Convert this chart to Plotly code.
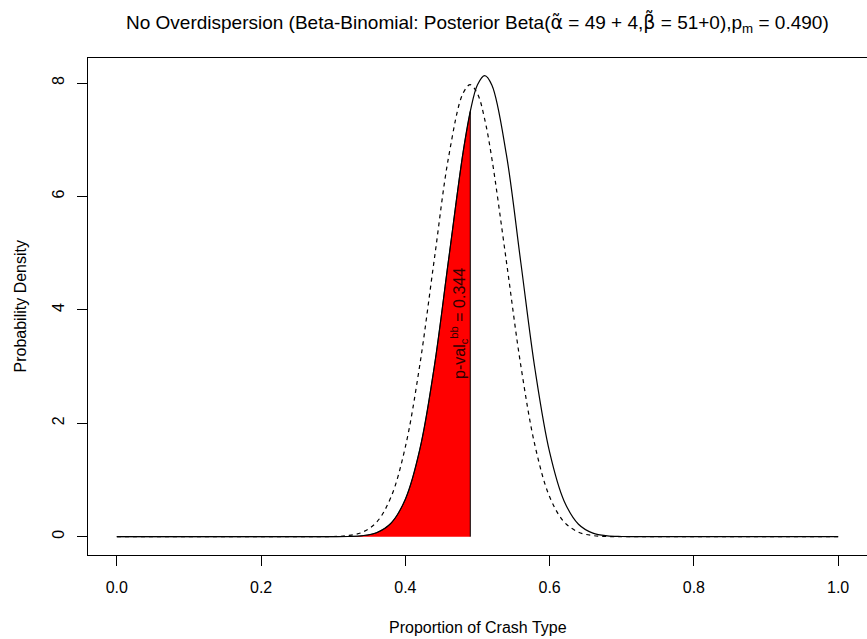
import plotly.graph_objects as go

# Proportion grid and the two density curves
x_vals = [0.0, 0.26, 0.28, 0.30, 0.32, 0.34, 0.36, 0.38, 0.40, 0.42, 0.44, 0.46,
          0.48, 0.49, 0.50, 0.51, 0.52, 0.54, 0.56, 0.58, 0.60, 0.62, 0.64, 0.66,
          0.68, 0.70, 0.72, 0.74, 1.0]

# Posterior Beta(49+4, 51+0) density (solid)
posterior_density = [0.0, 0.0, 0.0, 0.0005, 0.003, 0.017, 0.070, 0.237, 0.662, 1.538,
                     2.991, 4.893, 6.777, 7.50, 7.97, 8.13, 7.96, 6.74, 4.84, 2.93,
                     1.49, 0.631, 0.220, 0.063, 0.014, 0.003, 0.0, 0.0, 0.0]

# Beta(49, 51) density (dashed)
reference_density = [0.0, 0.0, 0.0005, 0.0035, 0.0185, 0.076, 0.254, 0.696, 1.585, 3.028,
                     4.88, 6.70, 7.82, 7.97, 7.81, 7.36, 6.66, 4.86, 3.02, 1.59,
                     0.704, 0.261, 0.080, 0.020, 0.004, 0.0007, 0.0, 0.0, 0.0]

p_m = 0.490
p_value = 0.344

x_ticks = [0.0, 0.2, 0.4, 0.6, 0.8, 1.0]
x_tick_text = ["0.0", "0.2", "0.4", "0.6", "0.8", "1.0"]
y_ticks = [0, 2, 4, 6, 8]

FONT = "Liberation Sans, Arial, sans-serif"
GREEK = '<span style="font-family:DejaVu Sans">{}</span>'

# Lower tail of the posterior up to p_m
tail_x = [x for x in x_vals if x <= p_m]
tail_y = posterior_density[:len(tail_x)]
p_m_height = posterior_density[x_vals.index(p_m)]

fig = go.Figure()

fig.add_trace(go.Scatter(
    x=tail_x, y=tail_y, mode="lines", line=dict(color="black", width=0.8, shape="spline"),
    fill="tozeroy", fillcolor="#ff0000", hoverinfo="skip", showlegend=False))

fig.add_trace(go.Scatter(
    x=[p_m, p_m], y=[0, p_m_height], mode="lines",
    line=dict(color="black", width=1), hoverinfo="skip", showlegend=False))

fig.add_trace(go.Scatter(
    x=x_vals, y=posterior_density, mode="lines",
    line=dict(color="black", width=1.2, shape="spline"), showlegend=False))

fig.add_trace(go.Scatter(
    x=x_vals, y=reference_density, mode="lines",
    line=dict(color="black", width=1.2, shape="spline", dash="4px,4px"), showlegend=False))

fig.add_annotation(
    x=0.475, y=3.76, xref="x", yref="y", textangle=-90, showarrow=False,
    text=f"p-val<sub>c</sub><sup>bb</sup> = {p_value:.3f}",
    font=dict(family=FONT, size=16, color="#300000"))

title_text = ("No Overdispersion (Beta-Binomial: Posterior Beta("
              + GREEK.format("α\u0303") + " = 49 + 4,"
              + GREEK.format("β\u0303") + " = 51+0),p<sub>m</sub> = 0.490)")

fig.add_annotation(
    x=0.5, y=1, xref="paper", yref="paper", yshift=36, showarrow=False,
    xanchor="center", yanchor="middle", text=title_text,
    font=dict(family=FONT, size=19, color="black"))

fig.add_annotation(
    x=0.5, y=0, xref="paper", yref="paper", yshift=-72, showarrow=False,
    xanchor="center", yanchor="middle", text="Proportion of Crash Type",
    font=dict(family=FONT, size=16, color="black"))

fig.add_annotation(
    x=0, y=0.5, xref="paper", yref="paper", xshift=-68, showarrow=False,
    xanchor="center", yanchor="middle", textangle=-90, text="Probability Density",
    font=dict(family=FONT, size=16, color="black"))

fig.update_layout(
    width=867, height=639,
    margin=dict(l=88, r=0, t=58, b=84),
    plot_bgcolor="white", paper_bgcolor="white",
    font=dict(family=FONT, size=16, color="black"),
    xaxis=dict(range=[-0.04, 1.04], tickvals=x_ticks, ticktext=x_tick_text,
               showgrid=False, zeroline=False, showline=True, mirror=True,
               linecolor="black", linewidth=1, ticks="outside", ticklen=10,
               tickcolor="black", tickfont=dict(family=FONT, size=16),
               ticklabelstandoff=8),
    yaxis=dict(range=[-0.323, 8.441], tickvals=y_ticks,
               showgrid=False, zeroline=False, showline=True, mirror=True,
               linecolor="black", linewidth=1, ticks="outside", ticklen=10,
               tickcolor="black", tickangle=-90, tickfont=dict(family=FONT, size=16),
               ticklabelstandoff=7),
)

fig.write_html("out.html")
